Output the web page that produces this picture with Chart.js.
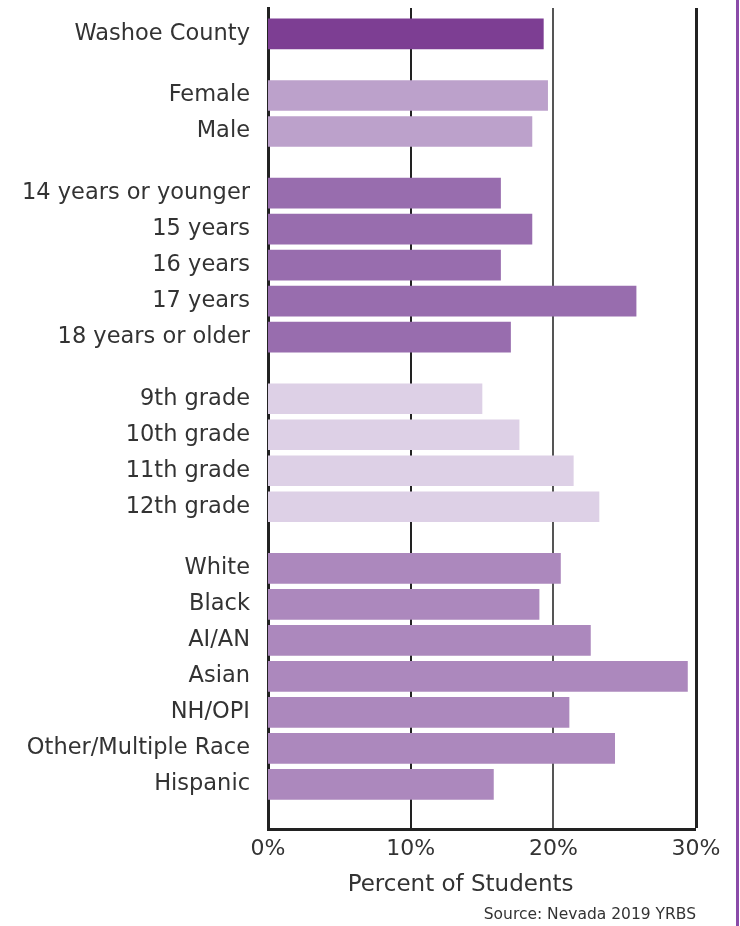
<!DOCTYPE html>
<html>
<head>
<meta charset="utf-8">
<script src="https://cdn.jsdelivr.net/npm/chart.js@4.4.1/dist/chart.umd.min.js"></script>
<style>
  html, body { margin: 0; padding: 0; background: #ffffff; }
  #wrap { position: relative; width: 740px; height: 926px; }
</style>
</head>
<body>
<div id="wrap"><canvas id="c" width="740" height="926"></canvas></div>
<script>
// ---- Data ----
const categories = [
  'Washoe County',
  'Female', 'Male',
  '14 years or younger', '15 years', '16 years', '17 years', '18 years or older',
  '9th grade', '10th grade', '11th grade', '12th grade',
  'White', 'Black', 'AI/AN', 'Asian', 'NH/OPI', 'Other/Multiple Race', 'Hispanic'
];
const groupOf = [0, 1, 1, 2, 2, 2, 2, 2, 3, 3, 3, 3, 4, 4, 4, 4, 4, 4, 4];
const values = [
  19.3,
  19.6, 18.5,
  16.3, 18.5, 16.3, 25.8, 17.0,
  15.0, 17.6, 21.4, 23.2,
  20.5, 19.0, 22.6, 29.4, 21.1, 24.3, 15.8
];
const groupColors = ['#7D3E93', '#BCA1CB', '#986DAE', '#DDD0E6', '#AC88BD'];
const xTickValues = [0, 10, 20, 30];
const xTitle = 'Percent of Students';
const sourceText = 'Source: Nevada 2019 YRBS';

// ---- Layout helpers (spacing between groups) ----
const GROUP_GAP = 0.71;
const positions = categories.map((c, i) => i + groupOf[i] * GROUP_GAP);
const points = categories.map((c, i) => ({ x: values[i], y: positions[i] }));
const colors = categories.map((c, i) => groupColors[groupOf[i]]);

const FONT = "'DejaVu Sans', sans-serif";
const TEXT = '#333333';

// x-axis title, drawn slightly left of the plot centre as in the original
const axisTitle = {
  id: 'axisTitle',
  afterDraw(chart) {
    const ctx = chart.ctx;
    const xs = chart.scales.x;
    ctx.save();
    ctx.fillStyle = TEXT;
    ctx.font = "23px 'DejaVu Sans', sans-serif";
    ctx.textAlign = 'center';
    ctx.textBaseline = 'middle';
    ctx.fillText(xTitle, xs.getPixelForValue(13.5), xs.bottom - 12);
    ctx.restore();
  }
};

const edgeLine = {
  id: 'edgeLine',
  afterDraw(chart) {
    const ctx = chart.ctx;
    ctx.save();
    ctx.fillStyle = '#8A4BA8';
    ctx.fillRect(736, 0, 3, 926);
    ctx.restore();
  }
};

new Chart(document.getElementById('c'), {
  type: 'bar',
  data: {
    datasets: [{
      data: points,
      backgroundColor: colors,
      borderWidth: 0,
      barThickness: 30
    }]
  },
  options: {
    indexAxis: 'y',
    responsive: false,
    animation: false,
    layout: { autoPadding: false, padding: { top: 8, right: 44, left: 0, bottom: 2 } },
    plugins: {
      legend: { display: false },
      tooltip: { enabled: false },
      subtitle: {
        display: true,
        text: sourceText,
        position: 'bottom',
        align: 'end',
        color: TEXT,
        font: { family: FONT, size: 15.5, weight: 'normal' },
        padding: { top: 8, bottom: 0 }
      }
    },
    scales: {
      y: {
        type: 'linear',
        reverse: true,
        offset: false,
        z: 1,
        min: -0.72,
        max: positions[positions.length - 1] + 1.25,
        afterBuildTicks: (scale) => { scale.ticks = positions.map(v => ({ value: v })); },
        afterFit: (scale) => {
          scale.width = 268;
          scale.paddingTop = 0;
          scale.paddingBottom = 0;
        },
        ticks: {
          autoSkip: false,
          padding: 18,
          color: TEXT,
          font: { family: FONT, size: 22.5 },
          callback: (v, i) => categories[i]
        },
        grid: { display: false, drawTicks: false },
        border: { display: true, color: '#222222', width: 3 }
      },
      x: {
        type: 'linear',
        min: 0,
        max: 30,
        afterBuildTicks: (scale) => { scale.ticks = xTickValues.map(v => ({ value: v })); },
        afterFit: (scale) => { scale.height = 68; },
        ticks: {
          padding: 7,
          color: TEXT,
          font: { family: FONT, size: 22 },
          callback: (v) => v + '%'
        },
        grid: {
          drawTicks: false,
          color: (ctx) => ctx.tick && ctx.tick.value === 20 ? '#555555' : '#222222',
          lineWidth: (ctx) => {
            if (!ctx.tick) return 0;
            if (ctx.tick.value === 0) return 0;
            if (ctx.tick.value === 30) return 3;
            return 2;
          }
        },
        border: { display: true, color: '#222222', width: 3 },
        title: { display: false }
      }
    }
  },
  plugins: [axisTitle, edgeLine]
});
</script>
</body>
</html>
